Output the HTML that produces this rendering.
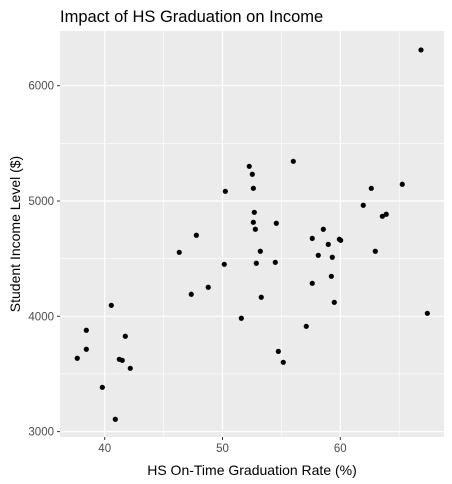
<!DOCTYPE html>
<html><head><meta charset="utf-8"><style>
html,body{margin:0;padding:0;background:#fff;}
svg{display:block;font-family:"Liberation Sans",Arial,sans-serif;}
</style></head><body>
<svg id="chart" width="452" height="484" viewBox="0 0 452 484" xmlns="http://www.w3.org/2000/svg">
<text x="60" y="22" font-size="16.5" fill="#000">Impact of HS Graduation on Income</text>
<rect x="60" y="31" width="384" height="406" fill="#ebebeb"/>
<g id="grid"></g>
<g id="points"></g>
<g id="axes"></g>
<text x="252" y="475" font-size="14" text-anchor="middle" fill="#000">HS On-Time Graduation Rate (%)</text>
<text transform="translate(20,234) rotate(-90)" font-size="14" text-anchor="middle" fill="#000">Student Income Level ($)</text>
</svg>
<script>
const gradRate = [52.27,52.53,52.62,50.24,52.70,52.62,52.79,47.78,53.21,46.33,50.15,52.87,48.79,47.35,53.29,40.56,51.60,38.44,41.75,38.44,37.67,41.24,41.49,42.17,39.80,40.90,56.01,65.26,62.63,61.95,63.57,63.90,54.57,58.56,57.62,59.92,60.03,58.98,62.97,58.13,59.32,54.48,59.24,57.62,59.49,67.39,57.11,54.74,55.16,66.85];
const income = [5301,5232,5110,5084,4902,4815,4755,4703,4564,4555,4451,4460,4252,4191,4165,4095,3983,3879,3827,3714,3636,3627,3618,3549,3384,3107,5344,5145,5110,4963,4867,4885,4807,4755,4676,4668,4659,4624,4564,4529,4512,4468,4347,4286,4121,4026,3913,3696,3601,6310];
const xTicks = [40,50,60];
const xMinor = [45,55,65];
const yTicks = [3000,4000,5000,6000];
const yMinor = [3500,4500,5500];
const xScale = v => 104.7 + (v - 40) * 11.78;
const yScale = v => 201 - (v - 5000) * 0.1153;
const NS = "http://www.w3.org/2000/svg";
function mk(tag, attrs, parent){const e=document.createElementNS(NS,tag);for(const k in attrs)e.setAttribute(k,attrs[k]);parent.appendChild(e);return e;}
const grid=document.getElementById('grid'), pts=document.getElementById('points'), axes=document.getElementById('axes');
xMinor.forEach(v=>{const l=mk('line',{x1:xScale(v),x2:xScale(v),y1:31,y2:437,stroke:'#fff','stroke-width':0.6},grid);

});
yMinor.forEach(v=>{const l=mk('line',{x1:60,x2:444,y1:yScale(v),y2:yScale(v),stroke:'#fff','stroke-width':0.6},grid);

});
xTicks.forEach(v=>{const x=xScale(v);
const l=mk('line',{x1:x,x2:x,y1:31,y2:437,stroke:'#fff','stroke-width':1.2},grid);


const t=mk('line',{x1:x,x2:x,y1:437,y2:440,stroke:'#333','stroke-width':1},axes);


const tx=mk('text',{x:x,y:452,'font-size':11.5,'text-anchor':'middle',fill:'#4d4d4d'},axes);
tx.textContent=v;

});
yTicks.forEach(v=>{const y=yScale(v);
const l=mk('line',{x1:60,x2:444,y1:y,y2:y,stroke:'#fff','stroke-width':1.2},grid);


const t=mk('line',{x1:57,x2:60,y1:y,y2:y,stroke:'#333','stroke-width':1},axes);


const tx=mk('text',{x:54,y:y+4,'font-size':11.5,'text-anchor':'end',fill:'#4d4d4d'},axes);
tx.textContent=v;

});
gradRate.forEach((g,i)=>{const c=mk('circle',{cx:xScale(g),cy:yScale(income[i]),r:2.6,fill:'#000'},pts);

});
</script>
</body></html>
